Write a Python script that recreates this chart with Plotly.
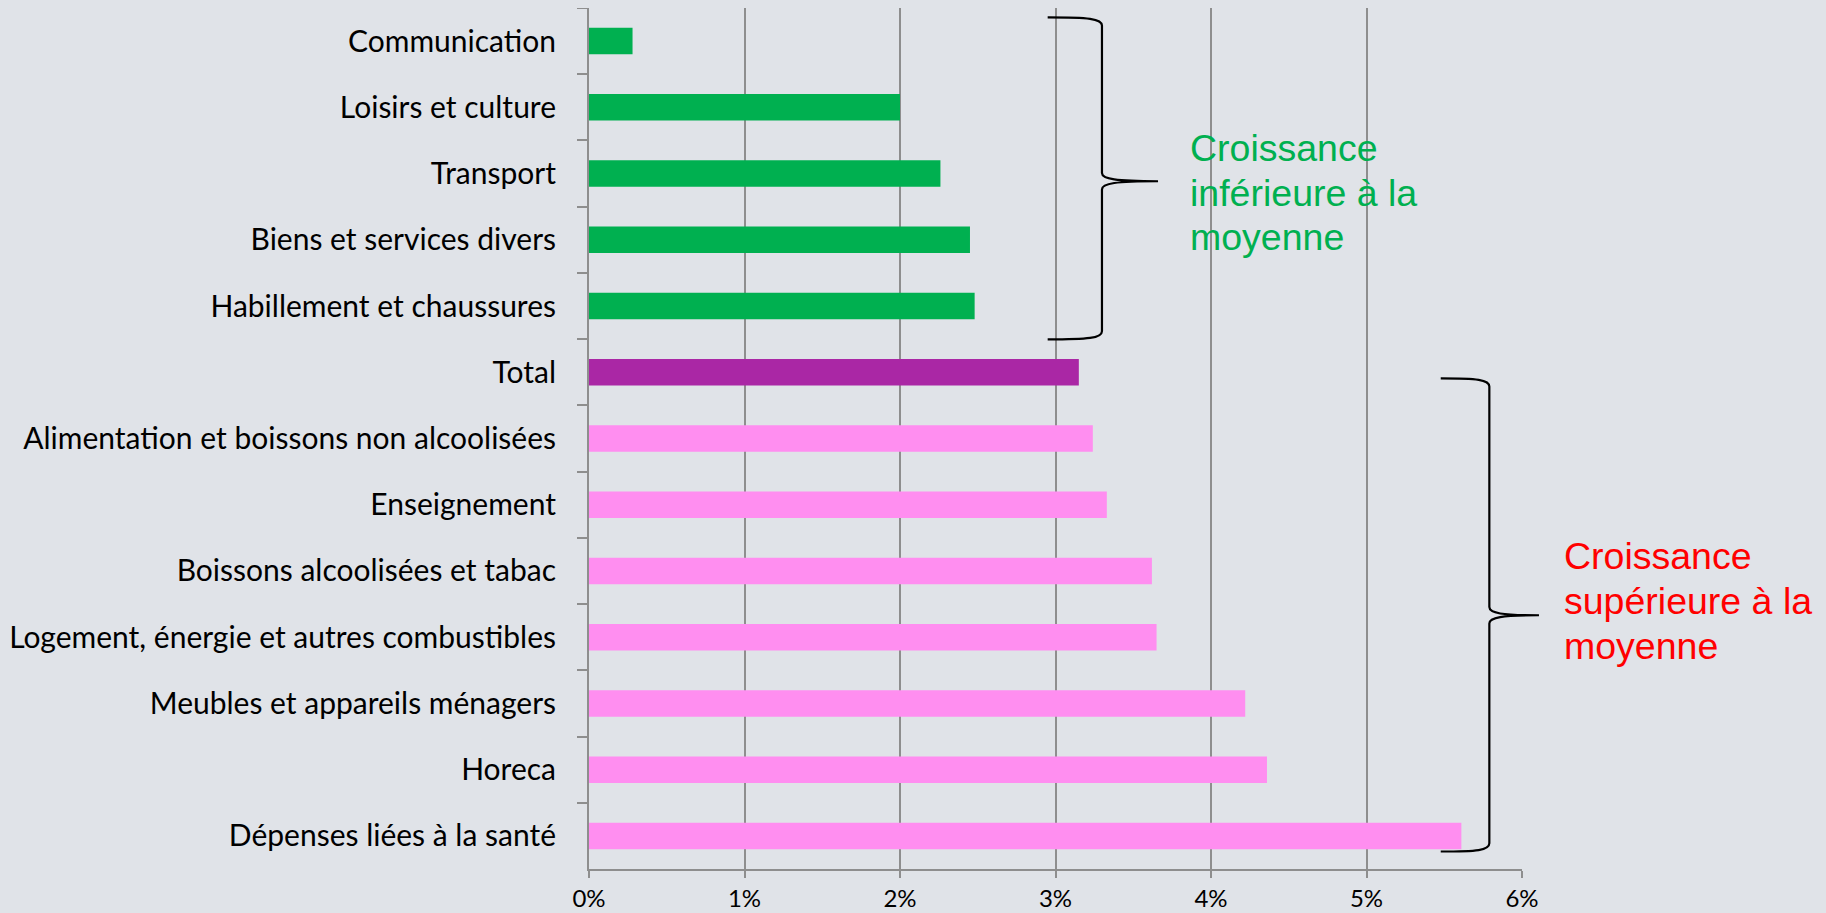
import plotly.graph_objects as go

# ---------------- data ----------------
categories = [
    "Communication",
    "Loisirs et culture",
    "Transport",
    "Biens et services divers",
    "Habillement et chaussures",
    "Total",
    "Alimentation et boissons non alcoolisées",
    "Enseignement",
    "Boissons alcoolisées et tabac",
    "Logement, énergie et autres combustibles",
    "Meubles et appareils ménagers",
    "Horeca",
    "Dépenses liées à la santé",
]
growth_pct = [0.28, 2.00, 2.26, 2.45, 2.48, 3.15, 3.24, 3.33, 3.62, 3.65, 4.22, 4.36, 5.61]
groups = ["below"] * 5 + ["total"] + ["above"] * 7
x_ticks = [0, 1, 2, 3, 4, 5, 6]
x_tick_labels = ["0%", "1%", "2%", "3%", "4%", "5%", "6%"]
label_below = ["Croissance", "inférieure à la", "moyenne"]
label_above = ["Croissance", "supérieure à la", "moyenne"]

# ---------------- style ----------------
GROUP_COLORS = {"below": "#00B050", "total": "#AA27A5", "above": "#FF8EF0"}
BG = "#E0E3E8"
GRID = "#8E8E8E"
# page body has an 8px default margin -> figure drawn at (8, 8)
W, H = 1818, 905
L, R, T, B = 581, 304, 0, 44

fig = go.Figure(
    go.Bar(
        x=growth_pct,
        y=categories,
        orientation="h",
        marker=dict(color=[GROUP_COLORS[g] for g in groups], line=dict(width=0)),
        hoverinfo="x+y",
    )
)


def brace(xt, xv, xm, yt, ym, yb, c=0.0095):
    """Right curly brace path in paper coordinates."""
    dx = xv - xt
    dm = xm - xv
    return (
        f"M{xt},{yt} C{xt + 0.75 * dx},{yt} {xv},{yt - 0.15 * c} {xv},{yt - c} "
        f"L{xv},{ym + c} "
        f"C{xv},{ym + 0.25 * c} {xv + 0.25 * dm},{ym} {xm},{ym} "
        f"C{xv + 0.25 * dm},{ym} {xv},{ym - 0.25 * c} {xv},{ym - c} "
        f"L{xv},{yb + c} "
        f"C{xv},{yb + 0.15 * c} {xt + 0.75 * dx},{yb} {xt},{yb}"
    )


shapes = [
    dict(type="path", xref="paper", yref="paper",
         path=brace(0.4916, 0.5498, 0.6099, 0.9891, 0.7988, 0.6152),
         line=dict(color="black", width=2.2)),
    dict(type="path", xref="paper", yref="paper",
         path=brace(0.9129, 0.9650, 1.0182, 0.5699, 0.2947, 0.0203),
         line=dict(color="black", width=2.2)),
]

annotations = []
for i, txt in enumerate(label_below):
    annotations.append(dict(
        xref="paper", yref="paper", x=0.6415, y=0.8372 - i * 0.0518,
        xanchor="left", yanchor="middle", text=txt, showarrow=False,
        font=dict(family="Liberation Sans, Arial", size=37.5, color="#00B050"),
    ))
for i, txt in enumerate(label_above):
    annotations.append(dict(
        xref="paper", yref="paper", x=1.0431, y=0.3636 - i * 0.0523,
        xanchor="left", yanchor="middle", text=txt, showarrow=False,
        font=dict(family="Liberation Sans, Arial", size=37.5, color="#FF0000"),
    ))

fig.update_layout(
    width=W, height=H,
    margin=dict(l=L, r=R, t=T, b=B, pad=0, autoexpand=False),
    paper_bgcolor=BG, plot_bgcolor=BG,
    bargap=0.6,
    showlegend=False,
    shapes=shapes,
    annotations=annotations,
    font=dict(family="Lato, Noto Sans, sans-serif", color="black"),
)
fig.update_xaxes(
    range=[0, 6],
    tickvals=x_ticks, ticktext=x_tick_labels,
    showgrid=True, gridcolor=GRID, gridwidth=1.6,
    showline=True, linecolor=GRID, linewidth=2,
    ticks="outside", ticklen=7, tickcolor=GRID, tickwidth=2,
    tickfont=dict(size=24, family="Lato, Noto Sans, sans-serif"),
    ticklabelstandoff=0,
    zeroline=False, fixedrange=True, automargin=False,
)
fig.update_yaxes(
    categoryorder="array", categoryarray=categories,
    autorange="reversed",
    showgrid=False,
    showline=True, linecolor=GRID, linewidth=2,
    ticks="outside", tickson="boundaries", ticklen=10, tickcolor=GRID, tickwidth=2,
    tickfont=dict(size=30, family="Lato, Noto Sans, sans-serif"),
    ticklabelstandoff=25,
    fixedrange=True, automargin=False,
)

fig.write_html(
    "out.html",
    post_script=f"document.body.style.background='{BG}';",
)
